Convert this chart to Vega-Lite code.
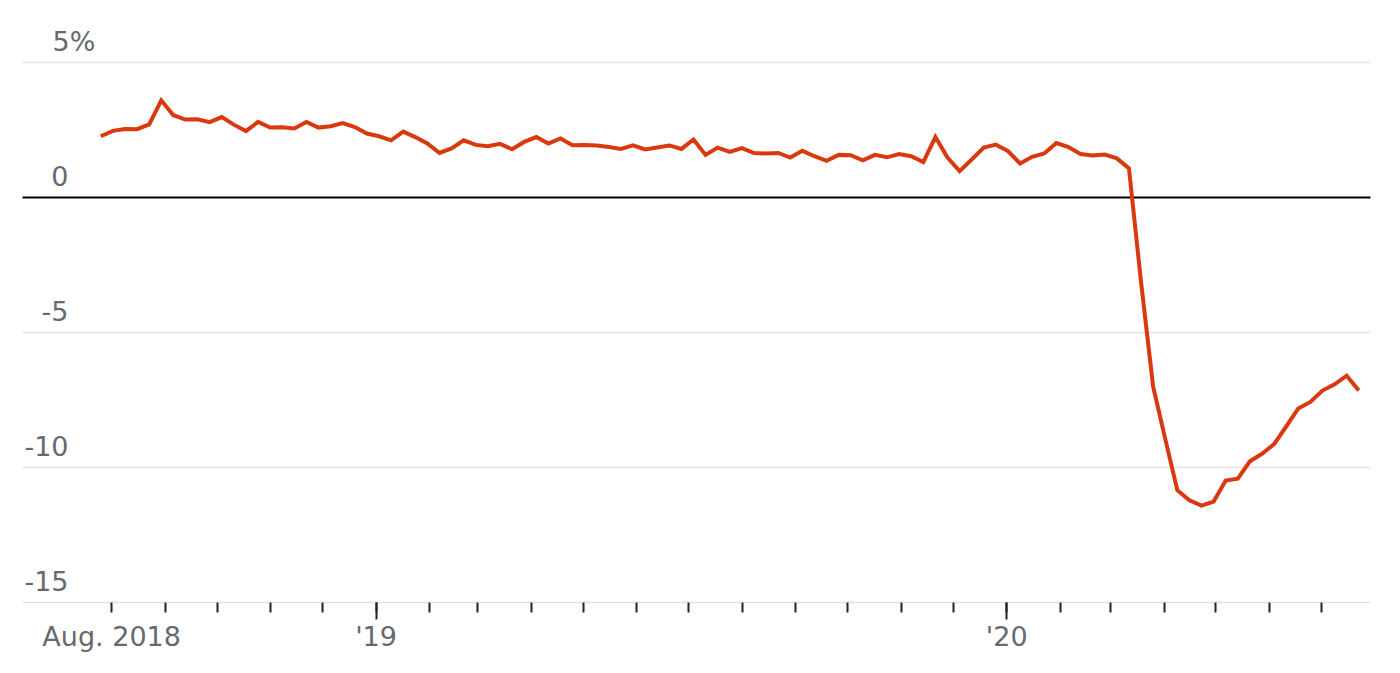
{
  "$schema": "https://vega.github.io/schema/vega-lite/v6.json",
  "width": 1348,
  "height": 540,
  "autosize": {"type": "none"},
  "padding": {"left": 22, "top": 62, "right": 30, "bottom": 71},
  "background": "white",
  "config": {
    "view": {"stroke": null},
    "axis": {"labelFont": "DejaVu Sans", "labelFontSize": 27, "labelColor": "#666a6e"}
  },
  "data": {
    "values": [
      {"date": "2018-07-26", "value": 2.25},
      {"date": "2018-08-02", "value": 2.45},
      {"date": "2018-08-09", "value": 2.52},
      {"date": "2018-08-16", "value": 2.51},
      {"date": "2018-08-23", "value": 2.69},
      {"date": "2018-08-30", "value": 3.58},
      {"date": "2018-09-06", "value": 3.03},
      {"date": "2018-09-13", "value": 2.87},
      {"date": "2018-09-20", "value": 2.88},
      {"date": "2018-09-27", "value": 2.77},
      {"date": "2018-10-04", "value": 2.96},
      {"date": "2018-10-11", "value": 2.68},
      {"date": "2018-10-18", "value": 2.44},
      {"date": "2018-10-25", "value": 2.78},
      {"date": "2018-11-01", "value": 2.57},
      {"date": "2018-11-08", "value": 2.58},
      {"date": "2018-11-15", "value": 2.54},
      {"date": "2018-11-22", "value": 2.78},
      {"date": "2018-11-29", "value": 2.57},
      {"date": "2018-12-06", "value": 2.62},
      {"date": "2018-12-13", "value": 2.74},
      {"date": "2018-12-20", "value": 2.59},
      {"date": "2018-12-27", "value": 2.35},
      {"date": "2019-01-03", "value": 2.25},
      {"date": "2019-01-10", "value": 2.10},
      {"date": "2019-01-17", "value": 2.42},
      {"date": "2019-01-24", "value": 2.22},
      {"date": "2019-01-31", "value": 1.98},
      {"date": "2019-02-07", "value": 1.63},
      {"date": "2019-02-14", "value": 1.80},
      {"date": "2019-02-21", "value": 2.10},
      {"date": "2019-02-28", "value": 1.93},
      {"date": "2019-03-07", "value": 1.88},
      {"date": "2019-03-14", "value": 1.97},
      {"date": "2019-03-21", "value": 1.77},
      {"date": "2019-03-28", "value": 2.04},
      {"date": "2019-04-04", "value": 2.22},
      {"date": "2019-04-11", "value": 1.98},
      {"date": "2019-04-18", "value": 2.17},
      {"date": "2019-04-25", "value": 1.92},
      {"date": "2019-05-02", "value": 1.93},
      {"date": "2019-05-09", "value": 1.91},
      {"date": "2019-05-16", "value": 1.85},
      {"date": "2019-05-23", "value": 1.78},
      {"date": "2019-05-30", "value": 1.91},
      {"date": "2019-06-06", "value": 1.76},
      {"date": "2019-06-13", "value": 1.83},
      {"date": "2019-06-20", "value": 1.91},
      {"date": "2019-06-27", "value": 1.78},
      {"date": "2019-07-04", "value": 2.13},
      {"date": "2019-07-11", "value": 1.56},
      {"date": "2019-07-18", "value": 1.83},
      {"date": "2019-07-25", "value": 1.67},
      {"date": "2019-08-01", "value": 1.81},
      {"date": "2019-08-08", "value": 1.63},
      {"date": "2019-08-15", "value": 1.61},
      {"date": "2019-08-22", "value": 1.63},
      {"date": "2019-08-29", "value": 1.46},
      {"date": "2019-09-05", "value": 1.71},
      {"date": "2019-09-12", "value": 1.51},
      {"date": "2019-09-19", "value": 1.34},
      {"date": "2019-09-26", "value": 1.56},
      {"date": "2019-10-03", "value": 1.55},
      {"date": "2019-10-10", "value": 1.36},
      {"date": "2019-10-17", "value": 1.56},
      {"date": "2019-10-24", "value": 1.47},
      {"date": "2019-10-31", "value": 1.59},
      {"date": "2019-11-07", "value": 1.51},
      {"date": "2019-11-14", "value": 1.29},
      {"date": "2019-11-21", "value": 2.22},
      {"date": "2019-11-28", "value": 1.46},
      {"date": "2019-12-05", "value": 0.96},
      {"date": "2019-12-12", "value": 1.39},
      {"date": "2019-12-19", "value": 1.83},
      {"date": "2019-12-26", "value": 1.94},
      {"date": "2020-01-02", "value": 1.70},
      {"date": "2020-01-09", "value": 1.24},
      {"date": "2020-01-16", "value": 1.49},
      {"date": "2020-01-23", "value": 1.61},
      {"date": "2020-01-30", "value": 2.00},
      {"date": "2020-02-06", "value": 1.85},
      {"date": "2020-02-13", "value": 1.59},
      {"date": "2020-02-20", "value": 1.54},
      {"date": "2020-02-27", "value": 1.57},
      {"date": "2020-03-05", "value": 1.43},
      {"date": "2020-03-12", "value": 1.06},
      {"date": "2020-03-19", "value": -3.15},
      {"date": "2020-03-26", "value": -7.02},
      {"date": "2020-04-02", "value": -8.96},
      {"date": "2020-04-09", "value": -10.86},
      {"date": "2020-04-16", "value": -11.23},
      {"date": "2020-04-23", "value": -11.43},
      {"date": "2020-04-30", "value": -11.28},
      {"date": "2020-05-07", "value": -10.50},
      {"date": "2020-05-14", "value": -10.43},
      {"date": "2020-05-21", "value": -9.79},
      {"date": "2020-05-28", "value": -9.51},
      {"date": "2020-06-04", "value": -9.15},
      {"date": "2020-06-11", "value": -8.50},
      {"date": "2020-06-18", "value": -7.83},
      {"date": "2020-06-25", "value": -7.59},
      {"date": "2020-07-02", "value": -7.17},
      {"date": "2020-07-09", "value": -6.94},
      {"date": "2020-07-16", "value": -6.62},
      {"date": "2020-07-23", "value": -7.17}
    ]
  },
  "layer": [
    {
      "mark": {"type": "line", "color": "#d8390f", "strokeWidth": 4},
      "encoding": {
        "x": {
          "field": "date", "type": "temporal",
          "scale": {"type": "utc", "domain": [
            {"year": 2018, "month": 6, "date": 10, "hours": 9, "minutes": 36, "utc": true},
            {"year": 2020, "month": 7, "date": 29, "hours": 12, "utc": true}
          ]},
          "axis": {
            "orient": "bottom",
            "title": null,
            "values": [
              {"year": 2018, "month": 8, "date": 1, "utc": true},
              {"year": 2018, "month": 9, "date": 1, "utc": true},
              {"year": 2018, "month": 10, "date": 1, "utc": true},
              {"year": 2018, "month": 11, "date": 1, "utc": true},
              {"year": 2018, "month": 12, "date": 1, "utc": true},
              {"year": 2019, "month": 1, "date": 1, "utc": true},
              {"year": 2019, "month": 2, "date": 1, "utc": true},
              {"year": 2019, "month": 3, "date": 1, "utc": true},
              {"year": 2019, "month": 4, "date": 1, "utc": true},
              {"year": 2019, "month": 5, "date": 1, "utc": true},
              {"year": 2019, "month": 6, "date": 1, "utc": true},
              {"year": 2019, "month": 7, "date": 1, "utc": true},
              {"year": 2019, "month": 8, "date": 1, "utc": true},
              {"year": 2019, "month": 9, "date": 1, "utc": true},
              {"year": 2019, "month": 10, "date": 1, "utc": true},
              {"year": 2019, "month": 11, "date": 1, "utc": true},
              {"year": 2019, "month": 12, "date": 1, "utc": true},
              {"year": 2020, "month": 1, "date": 1, "utc": true},
              {"year": 2020, "month": 2, "date": 1, "utc": true},
              {"year": 2020, "month": 3, "date": 1, "utc": true},
              {"year": 2020, "month": 4, "date": 1, "utc": true},
              {"year": 2020, "month": 5, "date": 1, "utc": true},
              {"year": 2020, "month": 6, "date": 1, "utc": true},
              {"year": 2020, "month": 7, "date": 1, "utc": true}
            ],
            "domain": false,
            "grid": false,
            "ticks": true,
            "tickSize": 10,
            "tickWidth": 2,
            "tickColor": "#222222",
            "labelExpr": "utcmonth(datum.value) == 0 ? utcFormat(datum.value, \"'%y\") : (utcmonth(datum.value) == 7 && utcyear(datum.value) == 2018 ? 'Aug. 2018' : '')",
            "labelAlign": "center",
            "labelBaseline": "alphabetic",
            "labelPadding": 33,
            "labelFlush": false,
            "labelOverlap": false
          }
        },
        "y": {
          "field": "value", "type": "quantitative",
          "scale": {"domain": [-15, 5], "nice": false, "zero": false},
          "axis": {
            "orient": "left",
            "title": null,
            "values": [-15, -10, -5, 0],
            "grid": true,
            "gridColor": {"condition": {"test": "datum.value === 0", "value": "#000000"}, "value": "#e3e3e3"},
            "gridWidth": {"condition": {"test": "datum.value === 0", "value": 2.2}, "value": 1.6},
            "ticks": false,
            "tickSize": 0,
            "domain": false,
            "labelAlign": "right",
            "labelBaseline": "alphabetic",
            "labelPadding": -46,
            "labelOffset": -12,
            "labelExpr": "'' + datum.value"
          }
        }
      }
    },
    {
      "mark": {"type": "line", "opacity": 0},
      "encoding": {
        "x": {
          "field": "date", "type": "temporal",
          "axis": {
            "orient": "bottom",
            "title": null,
            "values": [
              {"year": 2019, "month": 1, "date": 1, "utc": true},
              {"year": 2020, "month": 1, "date": 1, "utc": true}
            ],
            "domain": false,
            "grid": false,
            "labels": false,
            "tickSize": 17,
            "tickWidth": 2,
            "tickColor": "#222222"
          }
        },
        "y": {
          "field": "value", "type": "quantitative",
          "axis": {
            "orient": "left",
            "title": null,
            "values": [5],
            "grid": true,
            "gridColor": "#e3e3e3",
            "gridWidth": 1.6,
            "ticks": false,
            "tickSize": 0,
            "domain": false,
            "labelAlign": "left",
            "labelBaseline": "alphabetic",
            "labelPadding": -30,
            "labelOffset": -12,
            "labelExpr": "'5%'"
          }
        }
      }
    }
  ],
  "resolve": {"axis": {"x": "independent", "y": "independent"}}
}
